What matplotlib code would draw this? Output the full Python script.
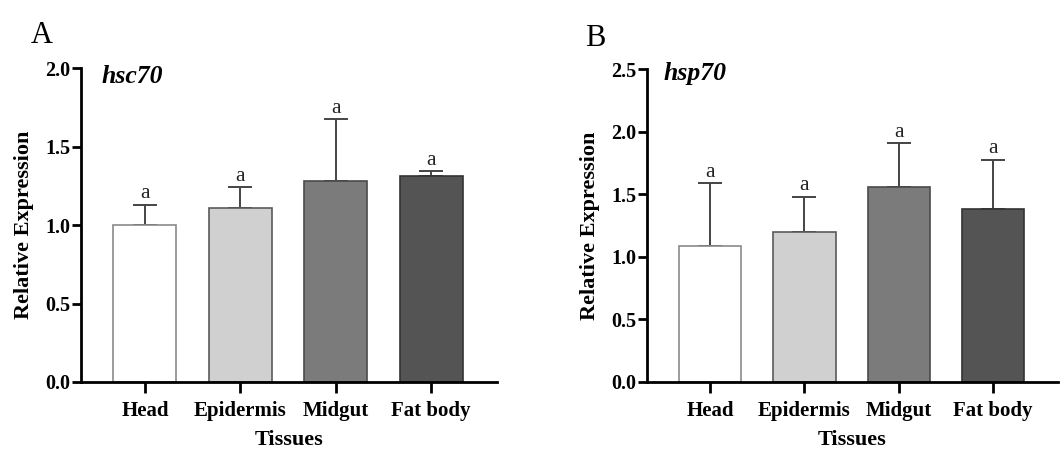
import numpy as np
import matplotlib
matplotlib.use('Agg')
import matplotlib.pyplot as plt

# ---------------------------------------------------------
# DATA
# ---------------------------------------------------------
TISSUES = ["Head", "Epidermis", "Midgut", "Fat body"]

HSC70_MEAN = [1.00, 1.11, 1.28, 1.31]
HSC70_ERR = [0.13, 0.13, 0.395, 0.035]
HSC70_SIG = ["a", "a", "a", "a"]

HSP70_MEAN = [1.09, 1.20, 1.56, 1.38]
HSP70_ERR = [0.50, 0.28, 0.345, 0.395]
HSP70_SIG = ["a", "a", "a", "a"]

FILL = ["#ffffff", "#d0d0d0", "#7b7b7b", "#545454"]
EDGE = ["#8a8a8a", "#5a5a5a", "#4a4a4a", "#333333"]

plt.rcParams['font.family'] = ['Liberation Serif', 'DejaVu Serif']


def draw_panel(ax, means, errs, sigs, gene, ymax, step, gene_x, gene_y):
    x = np.arange(len(TISSUES))
    ax.bar(x, means, width=0.66, color=FILL, edgecolor=EDGE, linewidth=1.2, zorder=2)
    ax.errorbar(x, means, yerr=[np.zeros(len(errs)), errs], fmt='none',
                ecolor='#444444', elinewidth=1.4, capsize=8.5, capthick=1.4, zorder=1)
    for xi, m, e, s in zip(x, means, errs, sigs):
        ax.annotate(s, (xi, m + e), xytext=(0, 1), textcoords='offset points',
                    ha='center', va='bottom', fontsize=15.5, color='#222222')

    ax.set_xlim(-0.67, 3.69)
    ax.set_ylim(0, ymax)
    ticks = np.arange(0, ymax + 1e-9, step)
    ax.set_yticks(ticks)
    ax.set_yticklabels([f"{v:.1f}" for v in ticks])
    ax.set_xticks(x)
    ax.set_xticklabels(TISSUES)

    for side in ['top', 'right']:
        ax.spines[side].set_visible(False)
    for side in ['left', 'bottom']:
        ax.spines[side].set_linewidth(2.0)
    ax.tick_params(axis='y', length=6.5, width=2.0, labelsize=14.5, pad=1)
    ax.tick_params(axis='x', length=8, width=2.0, labelsize=15, pad=6)
    for lab in ax.get_xticklabels() + ax.get_yticklabels():
        lab.set_fontweight('bold')

    ax.set_ylabel("Relative Expression", fontsize=16, fontweight='bold', labelpad=8)
    ax.set_xlabel("Tissues", fontsize=16, fontweight='bold', labelpad=6)
    ax.text(gene_x, gene_y, gene, transform=ax.transAxes, ha='left', va='top',
            fontsize=18.5, fontweight='bold', fontstyle='italic')


fig = plt.figure(figsize=(10.63, 4.51), dpi=100)
ax_a = fig.add_axes([0.0762, 0.153, 0.3913, 0.696])
ax_b = fig.add_axes([0.6087, 0.153, 0.3866, 0.694])

draw_panel(ax_a, HSC70_MEAN, HSC70_ERR, HSC70_SIG, "hsc70", 2.0, 0.5, 0.05, 1.01)
draw_panel(ax_b, HSP70_MEAN, HSP70_ERR, HSP70_SIG, "hsp70", 2.5, 0.5, 0.04, 1.023)

fig.text(0.029, 0.953, "A", fontsize=22, ha='left', va='top')
fig.text(0.550, 0.947, "B", fontsize=22, ha='left', va='top')

fig.savefig("out.png", dpi=100)
